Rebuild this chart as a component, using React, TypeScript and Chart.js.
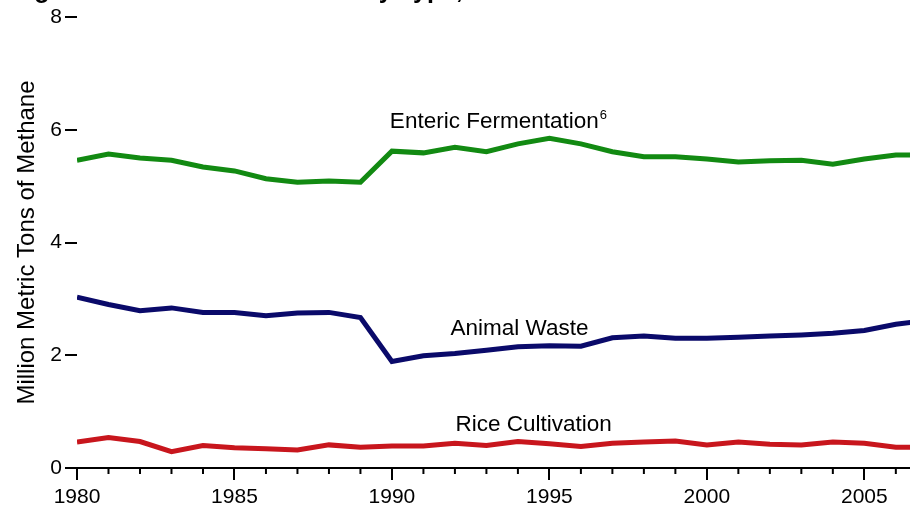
import React, { useEffect, useRef } from "react";
import { Chart, registerables } from "chart.js";

Chart.register(...registerables);

const years = [1980, 1981, 1982, 1983, 1984, 1985, 1986, 1987, 1988, 1989, 1990, 1991, 1992, 1993, 1994, 1995, 1996, 1997, 1998, 1999, 2000, 2001, 2002, 2003, 2004, 2005, 2006, 2007];
const entericFermentation = [5.46, 5.57, 5.50, 5.46, 5.34, 5.27, 5.13, 5.07, 5.09, 5.07, 5.62, 5.59, 5.69, 5.61, 5.75, 5.85, 5.75, 5.61, 5.52, 5.52, 5.48, 5.43, 5.45, 5.46, 5.39, 5.48, 5.55, 5.55];
const animalWaste = [3.03, 2.90, 2.79, 2.84, 2.76, 2.76, 2.70, 2.75, 2.76, 2.67, 1.89, 1.99, 2.03, 2.09, 2.15, 2.17, 2.16, 2.31, 2.34, 2.30, 2.30, 2.32, 2.34, 2.36, 2.39, 2.44, 2.55, 2.62];
const riceCultivation = [0.46, 0.54, 0.47, 0.29, 0.40, 0.36, 0.34, 0.32, 0.41, 0.37, 0.39, 0.39, 0.44, 0.40, 0.47, 0.43, 0.38, 0.44, 0.46, 0.48, 0.41, 0.46, 0.42, 0.41, 0.46, 0.44, 0.37, 0.37];

const seriesNames = ["Enteric Fermentation", "Animal Waste", "Rice Cultivation"];
const seriesColors = ["#128a12", "#0a0a6a", "#c8161d"];
const labelYears = [1993.25, 1994.05, 1994.5];
const labelValues = [6.14, 2.47, 0.76];
const labelSuperscripts = ["6", "", ""];
const yTicks = [0, 2, 4, 6, 8];
const titleText = "Figure 2. Methane Emissions by Type, 1980-2006";
const yAxisTitle = "Million Metric Tons of Methane";

const FONT = "'Liberation Sans', Arial, Helvetica, sans-serif";

export default function App() {
  const canvasRef = useRef<HTMLCanvasElement | null>(null);

  useEffect(() => {
    document.body.style.margin = "0";
    const canvas = canvasRef.current;
    if (!canvas) return;

    const seriesData = [entericFermentation, animalWaste, riceCultivation];

    const extrasPlugin = {
      id: "extras",
      afterDraw(chart: any) {
        const ctx = chart.ctx;
        const xs = chart.scales.x;
        const ys = chart.scales.y;
        const area = chart.chartArea;
        ctx.save();
        // minor x ticks
        ctx.strokeStyle = "#000";
        ctx.lineWidth = 2;
        for (const yr of years) {
          if (yr % 5 === 0) continue;
          const px = xs.getPixelForValue(yr);
          if (px > area.right + 1) continue;
          ctx.beginPath();
          ctx.moveTo(px, area.bottom);
          ctx.lineTo(px, area.bottom + 6);
          ctx.stroke();
        }
        // series labels
        ctx.fillStyle = "#000";
        ctx.textBaseline = "middle";
        for (let i = 0; i < seriesNames.length; i++) {
          ctx.font = `22.5px ${FONT}`;
          const w = ctx.measureText(seriesNames[i]).width;
          const cx = xs.getPixelForValue(labelYears[i]);
          const cy = ys.getPixelForValue(labelValues[i]);
          ctx.textAlign = "left";
          ctx.fillText(seriesNames[i], cx - w / 2, cy);
          if (labelSuperscripts[i]) {
            ctx.font = `13px ${FONT}`;
            ctx.fillText(labelSuperscripts[i], cx + w / 2 + 1, cy - 6);
          }
        }
        // cut-off title
        ctx.font = `bold 25px ${FONT}`;
        ctx.textAlign = "left";
        ctx.textBaseline = "alphabetic";
        ctx.fillText(titleText, 12, -2);
        ctx.restore();
      },
    };

    const chart = new Chart(canvas, {
      type: "line",
      data: {
        datasets: seriesNames.map((name, i) => ({
          label: name,
          data: years.map((yr, j) => ({ x: yr, y: seriesData[i][j] })),
          borderColor: seriesColors[i],
          backgroundColor: seriesColors[i],
          borderWidth: 5,
          pointRadius: 0,
          tension: 0,
          fill: false,
        })),
      },
      options: {
        responsive: false,
        animation: false,
        devicePixelRatio: 1,
        layout: { padding: { top: 17, right: 0, left: 0, bottom: 0 } },
        plugins: {
          legend: { display: false },
          tooltip: { enabled: false },
          title: { display: false },
        },
        scales: {
          x: {
            type: "linear",
            min: 1980,
            max: 2006.45,
            afterFit: (s: any) => {
              s.height = 40;
            },
            ticks: {
              stepSize: 1,
              includeBounds: false,
              autoSkip: false,
              maxRotation: 0,
              padding: 5,
              color: "#000",
              font: { size: 21, family: FONT },
              callback: (v: any) => (Number(v) % 5 === 0 ? String(v) : ""),
            },
            grid: {
              drawOnChartArea: false,
              drawTicks: true,
              tickLength: 12,
              lineWidth: 2,
              color: (c: any) => (c.tick && Number(c.tick.value) % 5 === 0 ? "#000" : "rgba(0,0,0,0)"),
            },
            border: { display: true, color: "#000", width: 2 },
          },
          y: {
            type: "linear",
            min: 0,
            max: 8,
            afterFit: (s: any) => {
              s.width = 77;
            },
            afterBuildTicks: (s: any) => {
              s.ticks = yTicks.map((v) => ({ value: v }));
            },
            ticks: {
              padding: 3,
              color: "#000",
              font: { size: 21, family: FONT },
            },
            grid: {
              drawOnChartArea: false,
              drawTicks: true,
              tickLength: 12,
              lineWidth: 2,
              color: "#000",
            },
            border: { display: false },
            title: {
              display: true,
              text: yAxisTitle,
              color: "#000",
              font: { size: 24, family: FONT },
              padding: { top: 13, bottom: 0 },
            },
          },
        },
      },
      plugins: [extrasPlugin],
    });

    return () => chart.destroy();
  }, []);

  return (
    <div style={{ position: "absolute", left: 0, top: 0, width: 910, height: 508 }}>
      <canvas ref={canvasRef} width={910} height={508} style={{ display: "block", width: 910, height: 508 }} />
    </div>
  );
}
